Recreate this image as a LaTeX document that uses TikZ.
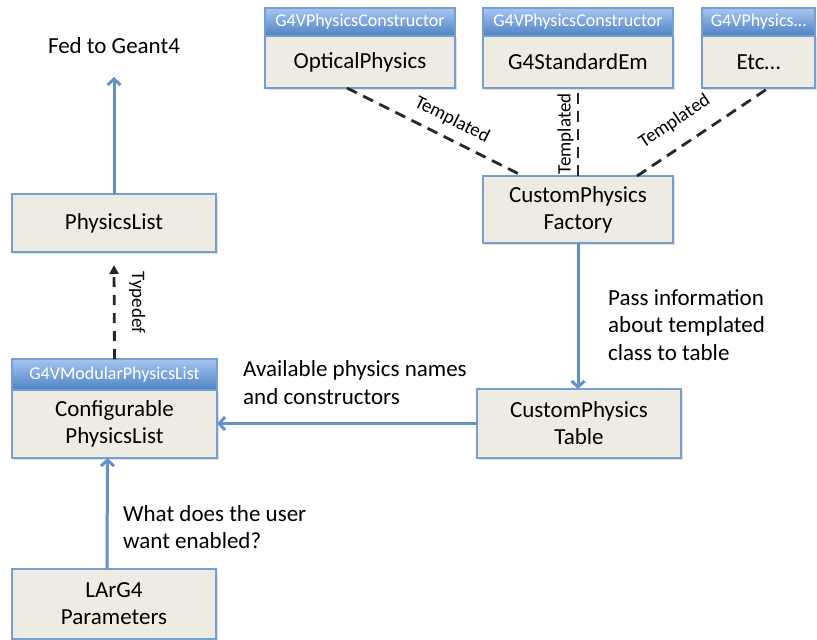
\documentclass[tikz,border=0pt]{standalone}
\usepackage{fontspec}
\setmainfont{Carlito}
\usetikzlibrary{arrows.meta,shadows}
\definecolor{boxfill}{RGB}{238,236,226}
\definecolor{boxline}{RGB}{120,158,206}
\definecolor{hdrtop}{RGB}{165,198,242}
\definecolor{hdrbot}{RGB}{80,130,195}
\definecolor{arrowblue}{RGB}{100,145,200}
\definecolor{dashcol}{RGB}{40,40,35}
\begin{document}
\begin{tikzpicture}[x=1pt,y=-1pt,
  body/.style={draw=boxline, fill=boxfill, line width=1.1pt, inner sep=0pt, outer sep=0pt,
    align=center, font=\fontsize{23}{27}\selectfont,
    drop shadow={shadow xshift=1.5pt, shadow yshift=-1.5pt, opacity=0.25}},
  hdr/.style={draw=boxline, top color=hdrtop, bottom color=hdrbot, line width=1.1pt,
    inner sep=0pt, outer sep=0pt, text=white, font=\fontsize{18}{20}\selectfont},
  lbl/.style={inner sep=0pt, align=left, font=\fontsize{23}{27.5}\selectfont},
  tlbl/.style={inner sep=3pt, font=\fontsize{19}{21}\selectfont, text=black},
  bluearrow/.style={draw=arrowblue, line width=3pt, -{Straight Barb[length=6pt,width=13pt]}},
  tmpl/.style={draw=dashcol, line width=2.8pt, dash pattern=on 11pt off 7pt},
  dasharrow/.style={draw=dashcol, line width=2.8pt, dash pattern=on 10pt off 8pt,
    -{Triangle[length=9pt,width=9pt]}}
]
\useasboundingbox (0,0) rectangle (817,640);

% top constructor boxes
\node[hdr, minimum width=190pt, minimum height=28pt] (optH) at (360,22) {G4VPhysicsConstructor};
\node[body, minimum width=190pt, minimum height=52pt, anchor=north] (optB) at (optH.south) {OpticalPhysics};
\node[hdr, minimum width=190pt, minimum height=28pt] (stdH) at (578,22) {G4VPhysicsConstructor};
\node[body, minimum width=190pt, minimum height=52pt, anchor=north] (stdB) at (stdH.south) {G4StandardEm};
\node[hdr, minimum width=113pt, minimum height=28pt] (etcH) at (758.5,22) {G4VPhysics…};
\node[body, minimum width=113pt, minimum height=52pt, anchor=north] (etcB) at (etcH.south) {Etc…};

% factory and table
\node[body, minimum width=190pt, minimum height=67pt] (factory) at (578,209.5) {CustomPhysics\\Factory};
\node[body, minimum width=204pt, minimum height=69pt] (table) at (579,423.5) {CustomPhysics\\Table};

% left column
\node[lbl, font=\fontsize{23}{27}\selectfont] (fed) at (114,46) {Fed to Geant4};
\coordinate (fedtip) at (114,77);
\node[body, minimum width=204pt, minimum height=58pt] (physlist) at (114,223) {PhysicsList};
\node[hdr, minimum width=205pt, minimum height=31pt] (confH) at (114.5,374.5) {G4VModularPhysicsList};
\node[body, minimum width=205pt, minimum height=68pt, anchor=north] (confB) at (confH.south) {Configurable\\PhysicsList};
\node[body, minimum width=204pt, minimum height=70pt] (larg4) at (114,604) {LArG4\\Parameters};

% templated connectors
\draw[tmpl] ([xshift=-13pt]optB.south) -- ([xshift=-55pt]factory.north)
  node[tlbl, pos=0.55, sloped, above=6pt] {Templated};
\draw[tmpl] (factory.north) -- (stdB.south)
  node[tlbl, pos=0.48, sloped, above=0pt] {Templated};
\draw[tmpl] ([xshift=59pt]factory.north) -- ([xshift=10pt]etcB.south)
  node[tlbl, pos=0.39, sloped, above=12pt] {Templated};

% arrows
\draw[bluearrow] (physlist.north) -- (fedtip);
\draw[dasharrow] (confH.north) -- ([yshift=-13pt]physlist.south)
  node[tlbl, pos=0.6, anchor=center, xshift=23pt, rotate=-90] {Typedef};
\draw[bluearrow] (factory.south) -- (factory.south |- table.north);
\draw[bluearrow] (table.west) -- (table.west -| confB.east);
\draw[bluearrow] ([xshift=-7pt]larg4.north) -- ([xshift=-7pt]confB.south);

% free labels
\node[lbl, anchor=west] (passinfo) at (608,325) {Pass information\\about templated\\class to table};
\node[lbl, anchor=west] (avail) at (243,382.5) {Available physics names\\and constructors};
\node[lbl, anchor=west] (what) at (123,527) {What does the user\\want enabled?};
\end{tikzpicture}
\end{document}
